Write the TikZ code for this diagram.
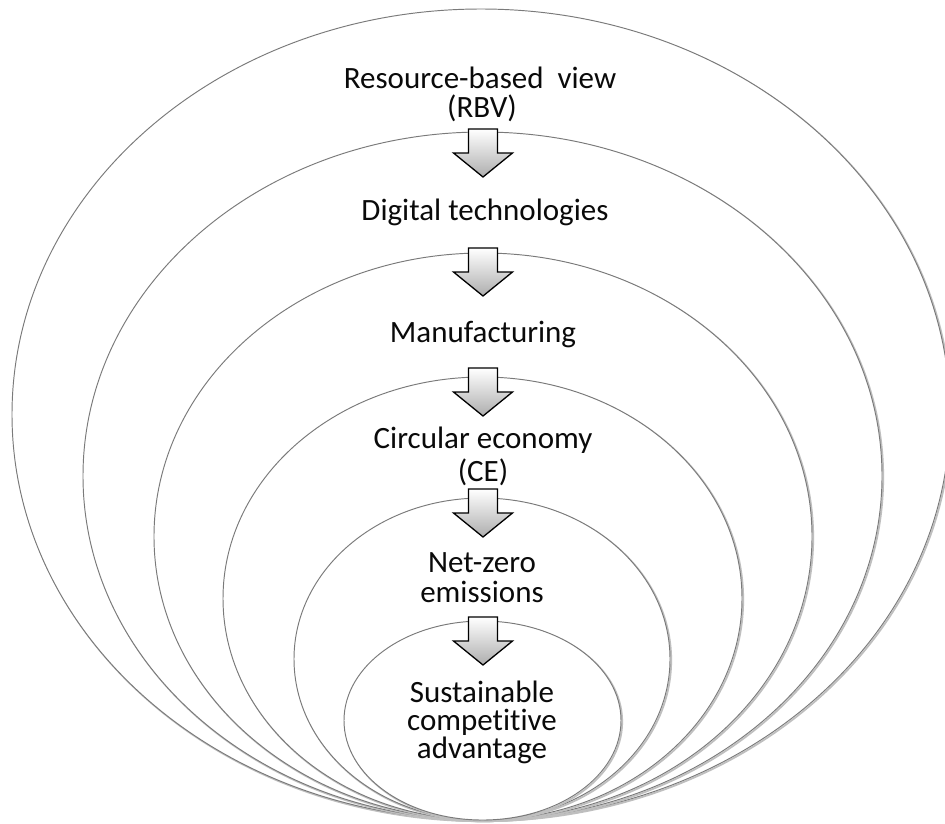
\documentclass[tikz,border=0pt]{standalone}
\usepackage{fontspec}
\setmainfont{Carlito}[Ligatures={NoCommon}]
\definecolor{ringgray}{gray}{0.48}
\definecolor{ringshade}{gray}{0.75}
\definecolor{labelblack}{gray}{0.04}
\begin{document}
\begin{tikzpicture}[x=1pt,y=-1pt,
  ring/.style={draw=ringgray, line width=0.95pt, fill=white},
  ringshadow/.style={draw=ringshade, line width=1.8pt},
  label/.style={anchor=base, inner sep=0pt, text=labelblack,
    font=\fontsize{31}{31}\selectfont},
  blockarrow/.style={draw=black, line width=1.3pt, line join=miter,
    top color=white, bottom color=black!32},
  downarrow/.pic={
    \draw[blockarrow] (-14.5,0) -- (14.5,0) -- (14.5,24) -- (29.5,24)
      -- (0,48) -- (-29.5,24) -- (-14.5,24) -- cycle;
  }]
\useasboundingbox (0,0) rectangle (945,823);
\clip (0,0) rectangle (945,823);

% nested rings, all touching at the bottom, drawn from the outside in
\foreach \cx/\cy/\rx/\ry/\nm in {
    481/414.5/469/405.5/rbv,
    482.5/476/399.5/344/dig,
    483/536.5/329/283.5/man,
    482.5/598.5/259.5/221.5/ce,
    482/659/188/161/nz,
    482.5/720.5/138.5/99.5/sca}{
  \draw[ringshadow] (\cx+1.2,\cy+1.2) ellipse [x radius=\rx pt, y radius=\ry pt];
  \draw[ring] (\cx,\cy) ellipse [x radius=\rx pt, y radius=\ry pt];
  \coordinate (ring-\nm) at (\cx,\cy);
}

% labels
\node[label] (rbv1) at (480,88) {Resource-based\ \ view};
\node[label] (rbv2) at (482,117) {(RBV)};
\node[label] (dig)  at (485,220) {Digital technologies};
\node[label] (man)  at (483,342) {Manufacturing};
\node[label] (ce1)  at (483,448) {Circular economy};
\node[label] (ce2)  at (483,481) {(CE)};
\node[label] (nz1)  at (482,572) {Net-zero};
\node[label] (nz2)  at (482,602) {emissions};
\node[label] (sca1) at (482,702) {Sustainable};
\node[label] (sca2) at (482,730) {competitive};
\node[label] (sca3) at (482,758) {advantage};

% block arrows between the levels
\coordinate (arr1) at (483,129);
\coordinate (arr2) at (483,248);
\coordinate (arr3) at (483,368);
\coordinate (arr4) at (483,489);
\coordinate (arr5) at (483,617);
\foreach \a in {arr1,arr2,arr3,arr4,arr5}
  \pic at (\a) {downarrow};
\end{tikzpicture}
\end{document}
